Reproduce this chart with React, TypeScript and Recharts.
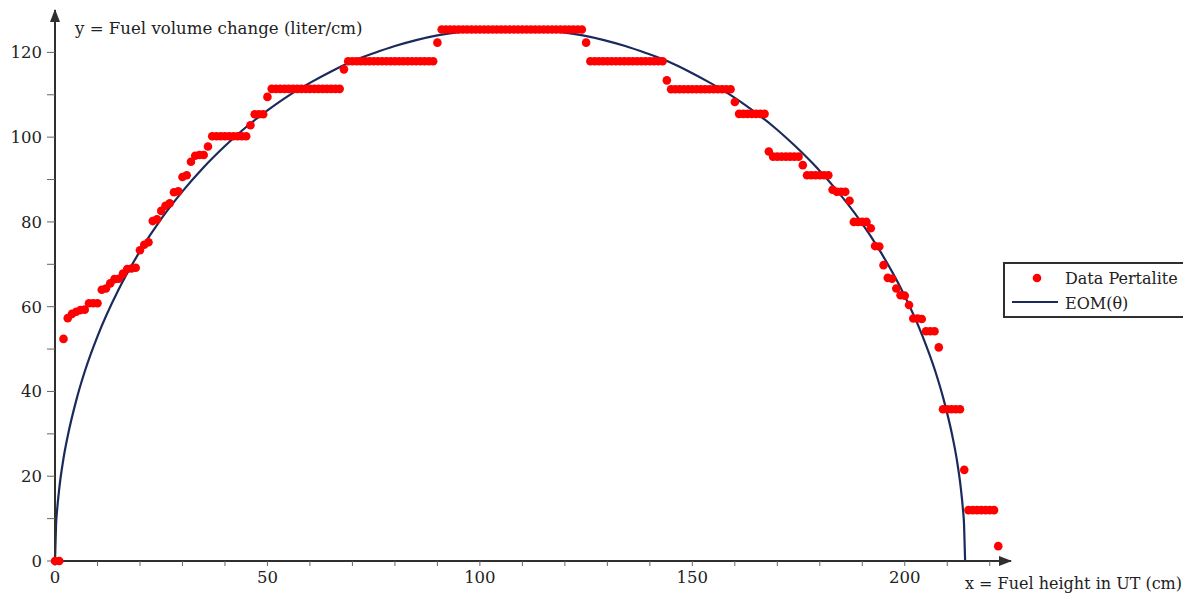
import { ComposedChart, Scatter, Line, XAxis, YAxis, ReferenceDot, Legend, Label } from "recharts";

const FONT = '"DejaVu Serif", serif';
const AXIS = "#2f2f2f";
const NAVY = "#1b2a5c";
const RED = "#ff0000";

// measured fuel volume change, one reading per cm of height (0..222 cm)
const pertaliteVolume = [
  0, 0, 52.4, 57.3, 58.3, 58.8, 59.2, 59.3, 60.8, 60.8,
  60.8, 64, 64.3, 65.5, 66.5, 66.6, 67.8, 68.9, 69, 69.2,
  73.3, 74.6, 75.2, 80.2, 80.6, 82.6, 83.8, 84.4, 87, 87.2,
  90.6, 91, 94.2, 95.6, 95.8, 95.8, 97.8, 100.2, 100.2, 100.2,
  100.2, 100.2, 100.2, 100.2, 100.2, 100.2, 102.8, 105.4, 105.4, 105.4,
  109.5, 111.4, 111.4, 111.4, 111.4, 111.4, 111.4, 111.4, 111.4, 111.4,
  111.4, 111.4, 111.4, 111.4, 111.4, 111.4, 111.4, 111.4, 116, 117.9,
  117.9, 117.9, 117.9, 117.9, 117.9, 117.9, 117.9, 117.9, 117.9, 117.9,
  117.9, 117.9, 117.9, 117.9, 117.9, 117.9, 117.9, 117.9, 117.9, 117.9,
  122.3, 125.4, 125.4, 125.4, 125.4, 125.4, 125.4, 125.4, 125.4, 125.4,
  125.4, 125.4, 125.4, 125.4, 125.4, 125.4, 125.4, 125.4, 125.4, 125.4,
  125.4, 125.4, 125.4, 125.4, 125.4, 125.4, 125.4, 125.4, 125.4, 125.4,
  125.4, 125.4, 125.4, 125.4, 125.4, 122.3, 117.9, 117.9, 117.9, 117.9,
  117.9, 117.9, 117.9, 117.9, 117.9, 117.9, 117.9, 117.9, 117.9, 117.9,
  117.9, 117.9, 117.9, 117.9, 113.4, 111.3, 111.3, 111.3, 111.3, 111.3,
  111.3, 111.3, 111.3, 111.3, 111.3, 111.3, 111.3, 111.3, 111.3, 111.3,
  108.3, 105.5, 105.5, 105.5, 105.5, 105.5, 105.5, 105.5, 96.6, 95.4,
  95.4, 95.4, 95.4, 95.4, 95.4, 95.4, 93.4, 91, 91, 91,
  91, 91, 91, 87.6, 87.1, 87.1, 87.1, 85, 80, 80,
  80, 80, 78.5, 74.3, 74.2, 69.8, 66.8, 66.6, 64.3, 62.7,
  62.6, 60.4, 57.2, 57.2, 57.1, 54.2, 54.2, 54.2, 50.4, 35.8,
  35.8, 35.8, 35.8, 35.8, 21.5, 12, 12, 12, 12, 12,
  12, 12, 3.5,
];

// EOM(θ) curve
const eomHeight = [
  0, 0.25, 0.5, 1, 2, 3, 5, 7, 10, 15, 20, 25, 30, 35, 40, 45, 50, 55, 60, 65, 70, 75, 80, 85, 90, 95, 100, 107,
  114.2, 119.2, 124.2, 129.2, 134.2, 139.2, 144.2, 149.2, 154.2, 159.2, 164.2, 169.2, 174.2, 179.2, 184.2, 189.2,
  194.2, 199.2, 204.2, 207.2, 209.2, 211.2, 212.2, 213.2, 213.7, 213.95, 214.2,
];
const eomVolume = [
  0, 8.6, 12.1, 17.1, 24.2, 29.5, 37.9, 44.7, 53, 64.1, 73.1, 80.7, 87.2, 92.9, 97.9, 102.4, 106.3, 109.8, 112.8,
  115.5, 117.9, 119.8, 121.5, 122.9, 124, 124.8, 125.3, 125.6,
  125.3, 124.8, 124, 122.9, 121.5, 119.8, 117.9, 115.5, 112.8, 109.8, 106.3, 102.4, 97.9, 92.9, 87.2, 80.7,
  73.1, 64.1, 53, 44.7, 37.9, 29.5, 24.2, 17.1, 12.1, 8.6, 0,
];

const xTicks = [0, 10, 20, 30, 40, 50, 60, 70, 80, 90, 100, 110, 120, 130, 140, 150, 160, 170, 180, 190, 200, 210, 220];
const xLabelled = [0, 50, 100, 150, 200];
const yTicks = [0, 10, 20, 30, 40, 50, 60, 70, 80, 90, 100, 110, 120];
const yLabelled = [0, 20, 40, 60, 80, 100, 120];

const pertaliteRows = pertaliteVolume.map((v, i) => ({ height: i, volume: v }));
const eomRows = eomHeight.map((h, i) => ({ height: h, volume: eomVolume[i] }));

function RedDot(p: any) {
  return <circle cx={p.cx} cy={p.cy} r={4.3} fill={RED} />;
}

function LegendBox({ payload }: any) {
  const items = payload || [];
  return (
    <div style={{ width: 181, height: 52, border: `2px solid ${AXIS}`, background: "#fff" }}>
      <svg width={181} height={52} style={{ display: "block" }}>
        {items.map((it: any, i: number) => (
          <g key={it.value} fontFamily={FONT} fontSize={16} fill="#222">
            {it.type === "line" ? (
              <line x1={7} x2={53} y1={38} y2={38} stroke={NAVY} strokeWidth={2.2} />
            ) : (
              <circle cx={32} cy={14} r={4.3} fill={RED} />
            )}
            <text x={60} y={i === 0 ? 20 : 45}>{it.value}</text>
          </g>
        ))}
      </svg>
    </div>
  );
}

export default function App() {
  return (
    <ComposedChart width={1183} height={586} margin={{ top: 2, right: 180, bottom: 3, left: 7 }}>
      <XAxis
        dataKey="height"
        type="number"
        domain={[0, 225]}
        ticks={xTicks}
        interval={0}
        tickSize={5}
        tickMargin={5}
        height={30}
        axisLine={{ stroke: AXIS, strokeWidth: 2 }}
        tickLine={{ stroke: "#666" }}
        tick={{ fill: "#222", fontSize: 16.5, fontFamily: FONT }}
        tickFormatter={(v: number) => (xLabelled.includes(v) ? String(v) : "")}
      >
        <Label
          content={(p: any) => (
            <text x={p.viewBox.x + p.viewBox.width - 46} y={p.viewBox.y + 28} fontFamily={FONT} fontSize={16} fill="#222">
              x = Fuel height in UT (cm)
            </text>
          )}
        />
      </XAxis>
      <YAxis
        dataKey="volume"
        type="number"
        domain={[0, 130]}
        ticks={yTicks}
        interval={0}
        width={40}
        tickSize={8}
        tickMargin={5}
        axisLine={{ stroke: AXIS, strokeWidth: 2 }}
        tickLine={{ stroke: "#666" }}
        tick={{ fill: "#222", fontSize: 16.5, fontFamily: FONT }}
        tickFormatter={(v: number) => (yLabelled.includes(v) ? String(v) : "")}
      >
        <Label
          content={(p: any) => (
            <text x={p.viewBox.x + p.viewBox.width + 20} y={p.viewBox.y + 24} fontFamily={FONT} fontSize={16.6} fill="#222">
              y = Fuel volume change (liter/cm)
            </text>
          )}
        />
      </YAxis>
      <Legend
        layout="horizontal"
        verticalAlign="middle"
        align="center"
        content={<LegendBox />}
        wrapperStyle={{ left: 995, top: 254, width: 185, height: 56 }}
      />
      <Scatter name="Data Pertalite" data={pertaliteRows} dataKey="volume" fill={RED} shape={RedDot} legendType="circle" isAnimationActive={false} />
      <Line
        name="EOM(θ)"
        data={eomRows}
        dataKey="volume"
        type="monotone"
        stroke={NAVY}
        strokeWidth={2.2}
        dot={false}
        activeDot={false}
        legendType="line"
        isAnimationActive={false}
      />
      <ReferenceDot
        x={225}
        y={0}
        ifOverflow="visible"
        shape={(p: any) => <path d={`M${p.cx + 1},${p.cy} L${p.cx - 12},${p.cy - 5} L${p.cx - 12},${p.cy + 5} Z`} fill={AXIS} />}
      />
      <ReferenceDot
        x={0}
        y={130}
        ifOverflow="visible"
        shape={(p: any) => <path d={`M${p.cx},${p.cy - 1} L${p.cx - 5},${p.cy + 12} L${p.cx + 5},${p.cy + 12} Z`} fill={AXIS} />}
      />
    </ComposedChart>
  );
}
